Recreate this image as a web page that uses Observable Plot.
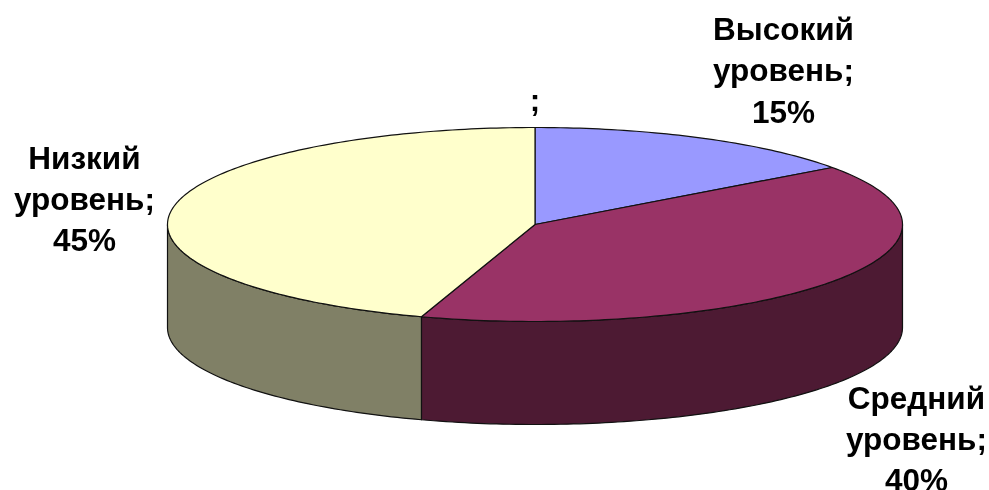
<!DOCTYPE html>
<html>
<head>
<meta charset="utf-8">
<script src="https://cdn.jsdelivr.net/npm/d3@7"></script>
<script src="https://cdn.jsdelivr.net/npm/@observablehq/plot@0.6"></script>
<style>
  html, body { margin: 0; padding: 0; background: #fff; }
  svg { display: block; filter: blur(0.45px); }
</style>
</head>
<body>
<div id="chart"></div>
<script>
// Data
const categories = ["Высокий уровень", "Средний уровень", "Низкий уровень"];
const shares = [15, 40, 45];
const topColors = ["#9999FF", "#993366", "#FFFFCC"];
const wallColors = ["#4D1A33", "#4D1A33", "#808066"];
const extraLabel = ";";

// Layout of the tilted disc, in disc units (radius = 1)
const DEPTH = 103 / 97;      // wall height relative to the vertical radius
const labelAnchors = [[0.676, 1.613], [1.038, -2.19], [-1.226, 0.284]];
const extraAnchor = [0, 1.31];

// Angle measured clockwise from 12 o'clock
const rad = (deg) => (deg * Math.PI) / 180;
const px = (deg) => Math.sin(rad(deg));
const py = (deg) => Math.cos(rad(deg));

let cumulative = 0;
const slices = categories.map((name, i) => {
  const start = (cumulative / 100) * 360;
  cumulative += shares[i];
  const end = (cumulative / 100) * 360;
  return {name, share: shares[i], start, end, top: topColors[i], wall: wallColors[i], i};
});

function arcAngles(a, b) {
  const out = [];
  for (let t = a; t < b; t += 1) out.push(t);
  out.push(b);
  return out;
}

const topPoints = slices.flatMap((s) => [
  {k: s.name, x: 0, y: 0},
  ...arcAngles(s.start, s.end).map((t) => ({k: s.name, x: px(t), y: py(t)})),
  {k: s.name, x: 0, y: 0}
]);

// Only the front half (90deg to 270deg) of the wall can be seen
const wallPoints = slices.flatMap((s) => {
  const a = Math.max(s.start, 90);
  const b = Math.min(s.end, 270);
  if (a >= b) return [];
  const arc = arcAngles(a, b);
  const first = arc.map((t) => ({k: s.name, x: px(t), y: py(t)}));
  const second = arc.slice().reverse().map((t) => ({k: s.name, x: px(t), y: py(t) - DEPTH}));
  return [...first, ...second, first[0]];
});

const colorOf = (key, field) => slices.find((s) => s.name === key)[field];
const labels = slices.map((s, i) => {
  const [head, tail] = s.name.split(" ");
  return {text: `${head}\n${tail};\n${s.share}%`, x: labelAnchors[i][0], y: labelAnchors[i][1]};
});
const labelFont = {
  text: "text", x: "x", y: "y",
  fontFamily: "'Liberation Sans', Arial, sans-serif",
  fontWeight: "bold",
  fontSize: 31.5,
  lineHeight: 1.31,
  fill: "#000",
  textAnchor: "middle",
  lineAnchor: "middle"
};

const chart = Plot.plot({
  width: 989,
  height: 490,
  margin: 0,
  x: {domain: [-1, 1], range: [167, 902], axis: null},
  y: {domain: [1, -1], range: [127, 321], axis: null},
  marks: [
    Plot.line(wallPoints, {
      x: "x", y: "y", z: "k",
      fill: (d) => colorOf(d.k, "wall"),
      stroke: "#111", strokeWidth: 1.2, curve: "linear-closed"
    }),
    Plot.line(topPoints, {
      x: "x", y: "y", z: "k",
      fill: (d) => colorOf(d.k, "top"),
      stroke: "#111", strokeWidth: 1.2, curve: "linear-closed"
    }),
    Plot.text(labels, labelFont),
    Plot.text([{text: extraLabel, x: extraAnchor[0], y: extraAnchor[1]}], labelFont)
  ]
});
document.getElementById("chart").appendChild(chart);
</script>
</body>
</html>
